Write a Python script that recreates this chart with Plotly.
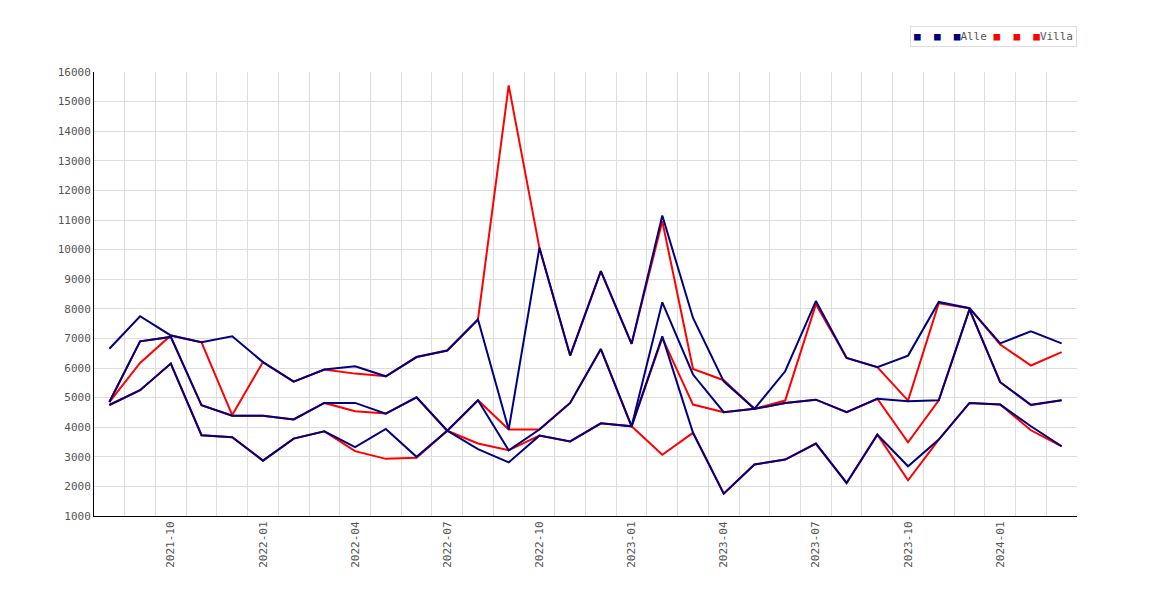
import plotly.graph_objects as go

# monthly points, 2021-08 .. 2024-03
months = [
    "2021-08", "2021-09", "2021-10", "2021-11", "2021-12",
    "2022-01", "2022-02", "2022-03", "2022-04", "2022-05", "2022-06",
    "2022-07", "2022-08", "2022-09", "2022-10", "2022-11", "2022-12",
    "2023-01", "2023-02", "2023-03", "2023-04", "2023-05", "2023-06",
    "2023-07", "2023-08", "2023-09", "2023-10", "2023-11", "2023-12",
    "2024-01", "2024-02", "2024-03",
]
tick_labels = [m if m[5:] in ("01", "04", "07", "10") else "" for m in months]

alle_hi = [6650, 7750, 7100, 6870, 7070, 6200, 5540, 5950, 6060, 5720, 6370,
           6590, 7640, 3920, 10060, 6420, 9270, 6815, 11150, 7690, 5550, 4620,
           5890, 8260, 6340, 6030, 6420, 8230, 8020, 6830, 7240, 6830]
alle_mid = [4850, 6900, 7050, 4740, 4390, 4390, 4260, 4820, 4820, 4460, 5010,
            3880, 4910, 3220, 3920, 4820, 6640, 4030, 8220, 5780, 4505, 4620,
            4820, 4930, 4505, 4960, 4880, 4910, 7980, 5520, 4760, 4910]
alle_lo = [4750, 5250, 6150, 3730, 3660, 2870, 3615, 3860, 3330, 3940, 3000,
           3880, 3260, 2810, 3715, 3520, 4130, 4030, 7070, 3810, 1755, 2740,
           2905, 3446, 2116, 3750, 2680, 3580, 4820, 4764, 4032, 3356]

villa_hi = [4850, 6170, 7100, 6870, 4410, 6200, 5540, 5950, 5810, 5720, 6370,
            6590, 7640, 15550, 10060, 6420, 9270, 6815, 10960, 5970, 5587, 4620,
            4900, 8150, 6340, 6030, 4900, 8190, 8020, 6793, 6083, 6534]
villa_mid = [4850, 6900, 7050, 4740, 4390, 4390, 4260, 4820, 4540, 4460, 5010,
             3880, 4910, 3920, 3920, 4820, 6640, 4030, 7020, 4764, 4505, 4620,
             4820, 4930, 4505, 4960, 3491, 4910, 7980, 5520, 4740, 4910]
villa_lo = [4750, 5250, 6150, 3730, 3660, 2870, 3615, 3860, 3190, 2930, 2970,
            3880, 3450, 3220, 3715, 3520, 4130, 4030, 3070, 3810, 1755, 2740,
            2905, 3446, 2116, 3750, 2206, 3580, 4820, 4764, 3896, 3356]

legend_labels = ["", "", "Alle", "", "", "Villa"]

NAVY = "#000080"
RED = "#ff0000"
FONT = "DejaVu Sans Mono"

fig = go.Figure()

# red ones first, the navy lines sit on top where they coincide
for serie in (villa_hi, villa_mid, villa_lo):
    fig.add_trace(go.Scatter(x=months, y=serie, mode="lines",
                             line=dict(color=RED, width=2), showlegend=False))
for serie in (alle_hi, alle_mid, alle_lo):
    fig.add_trace(go.Scatter(x=months, y=serie, mode="lines",
                             line=dict(color=NAVY, width=2), showlegend=False))

# compact legend: coloured squares followed by the labels
colores = [NAVY, NAVY, NAVY, RED, RED, RED]
legend_text = "".join(
    '<span style="color:%s">\u25a0</span>%s' % (c, (l + " ") if l else "  ")
    for c, l in zip(colores, legend_labels)
).rstrip()

fig.add_annotation(
    text=legend_text,
    xref="paper", yref="paper", x=1, y=1.104, xanchor="right", yanchor="top",
    showarrow=False, font=dict(family=FONT, size=11, color="#555555"),
    bordercolor="#dddddd", borderwidth=1, borderpad=3, bgcolor="white",
)

# the page has an 8px body margin, so the figure is a bit smaller than the window
fig.update_layout(
    width=1162, height=592,
    margin=dict(l=86, r=93, t=64, b=84),
    plot_bgcolor="white", paper_bgcolor="white",
    font=dict(family=FONT, size=11, color="#555555"),
    showlegend=False,
    xaxis=dict(
        type="category", range=[-0.5, len(months) - 0.5],
        tickmode="array", tickvals=months, ticktext=tick_labels,
        tickson="boundaries", ticks="", tickangle=-90,
        showgrid=True, gridcolor="#dddddd", gridwidth=1,
        showline=True, linecolor="black", linewidth=1,
    ),
    yaxis=dict(
        range=[1000, 16000], dtick=1000, ticks="", tickformat="d",
        showgrid=True, gridcolor="#dddddd", gridwidth=1,
        showline=True, linecolor="black", linewidth=1, zeroline=False,
    ),
)

fig.write_html("out.html")
